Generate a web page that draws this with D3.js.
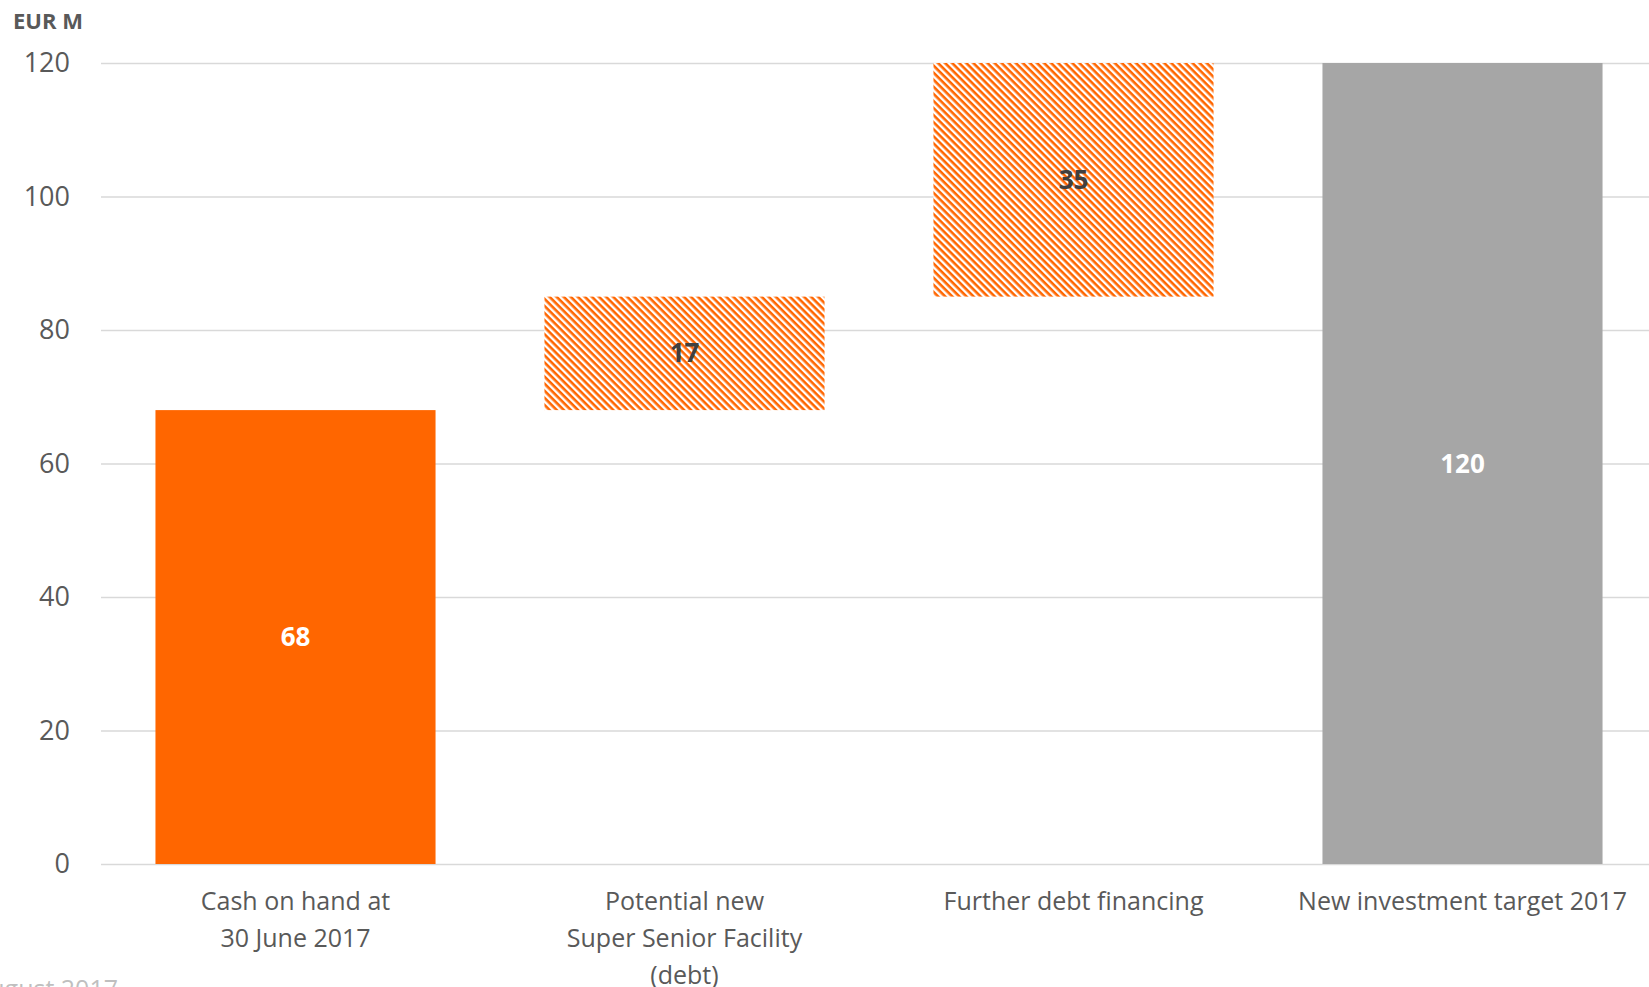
<!DOCTYPE html>
<html>
<head>
<meta charset="utf-8">
<script src="https://cdn.jsdelivr.net/npm/d3@7"></script>
<style>
  body { margin: 0; background: #fff; overflow: hidden; }
  svg text { font-family: "Open Sans", sans-serif; }
</style>
</head>
<body>
<svg id="chart" width="1649" height="987"></svg>
<script>
// Data
var categories = [
    ["Cash on hand at", "30 June 2017"],
    ["Potential new", "Super Senior Facility", "(debt)"],
    ["Further debt financing"],
    ["New investment target 2017"]
];
var values = [68, 17, 35, 120];
var kinds = ["total", "step", "step", "total"];
var yTicks = [0, 20, 40, 60, 80, 100, 120];

var svg = d3.select("#chart");

// waterfall bars: steps start where the previous bar ends
var bars = [];
var running = 0;
for (i = 0; i < values.length; i++) {
    var lo, hi;
    if (kinds[i] == "total") { lo = 0; hi = values[i]; running = values[i]; }
    else { lo = running; hi = running + values[i]; running = hi; }
    bars.push({ idx: i, lo: lo, hi: hi, v: values[i], kind: kinds[i] });
}

var x = d3.scaleBand()
    .domain(d3.range(categories.length))
    .range([101, 1657])
    .paddingInner(0.28)
    .paddingOuter(0.14);

var y = d3.scaleLinear().domain([0, 120]).range([864, 63]);

// hatch pattern for the debt steps (stripes running down to the right)
var defs = svg.append("defs");
var pat = defs.append("pattern")
    .attr("id", "hatch")
    .attr("patternUnits", "userSpaceOnUse")
    .attr("width", 5).attr("height", 5)
    .attr("patternTransform", "rotate(45)");
pat.append("rect").attr("width", 5).attr("height", 5).attr("fill", "#fff");
pat.append("rect").attr("x", 0).attr("y", 0).attr("width", 5).attr("height", 2.6).attr("fill", "#ff6600");

// gridlines + y tick labels
var yAxis = svg.append("g")
    .attr("transform", "translate(101,0)")
    .call(d3.axisLeft(y).tickValues(yTicks).tickSize(-1560).tickPadding(31));
yAxis.select(".domain").remove();
yAxis.selectAll(".tick line").attr("stroke", "#d9d9d9").attr("stroke-width", 1.6);
yAxis.selectAll(".tick text")
    .attr("fill", "#595959")
    .style("font-size", "27px")
    .style("font-family", "'Open Sans', sans-serif");

// unit label
svg.append("text")
    .attr("x", 13).attr("y", 29)
    .attr("fill", "#595959")
    .style("font-size", "22px")
    .style("font-weight", "bold")
    .text("EUR M");

// bars
svg.append("g").selectAll("rect")
    .data(bars)
    .join("rect")
    .attr("x", function (d) { return x(d.idx); })
    .attr("width", x.bandwidth())
    .attr("y", function (d) { return y(d.hi); })
    .attr("height", function (d) { return y(d.lo) - y(d.hi); })
    .attr("fill", function (d) {
        if (d.kind == "step") return "url(#hatch)";
        return d.idx == 0 ? "#ff6600" : "#a6a6a6";
    });

// value labels
svg.append("g").selectAll("text")
    .data(bars)
    .join("text")
    .attr("x", function (d) { return x(d.idx) + x.bandwidth() / 2; })
    .attr("y", function (d) { return (y(d.lo) + y(d.hi)) / 2; })
    .attr("text-anchor", "middle")
    .attr("dy", "0.35em")
    .attr("fill", function (d) { return d.kind == "step" ? "#404040" : "#ffffff"; })
    .style("font-size", "26px")
    .style("font-weight", "bold")
    .text(function (d) { return d.v; });

// category labels
var cat = svg.append("g").selectAll("text")
    .data(categories)
    .join("text")
    .attr("text-anchor", "middle")
    .attr("fill", "#595959")
    .style("font-size", "25px")
    .attr("transform", function (d, i) { return "translate(" + (x(i) + x.bandwidth() / 2) + ",910)"; });
cat.selectAll("tspan")
    .data(function (d) { return d; })
    .join("tspan")
    .attr("x", 0)
    .attr("y", function (d, j) { return j * 37; })
    .text(function (d) { return d; });

// footnote, cut off at the page edge
svg.append("text")
    .attr("x", 118).attr("y", 998)
    .attr("text-anchor", "end")
    .attr("fill", "#bfbfbf")
    .style("font-size", "25px")
    .text("August 2017");
</script>
</body>
</html>
